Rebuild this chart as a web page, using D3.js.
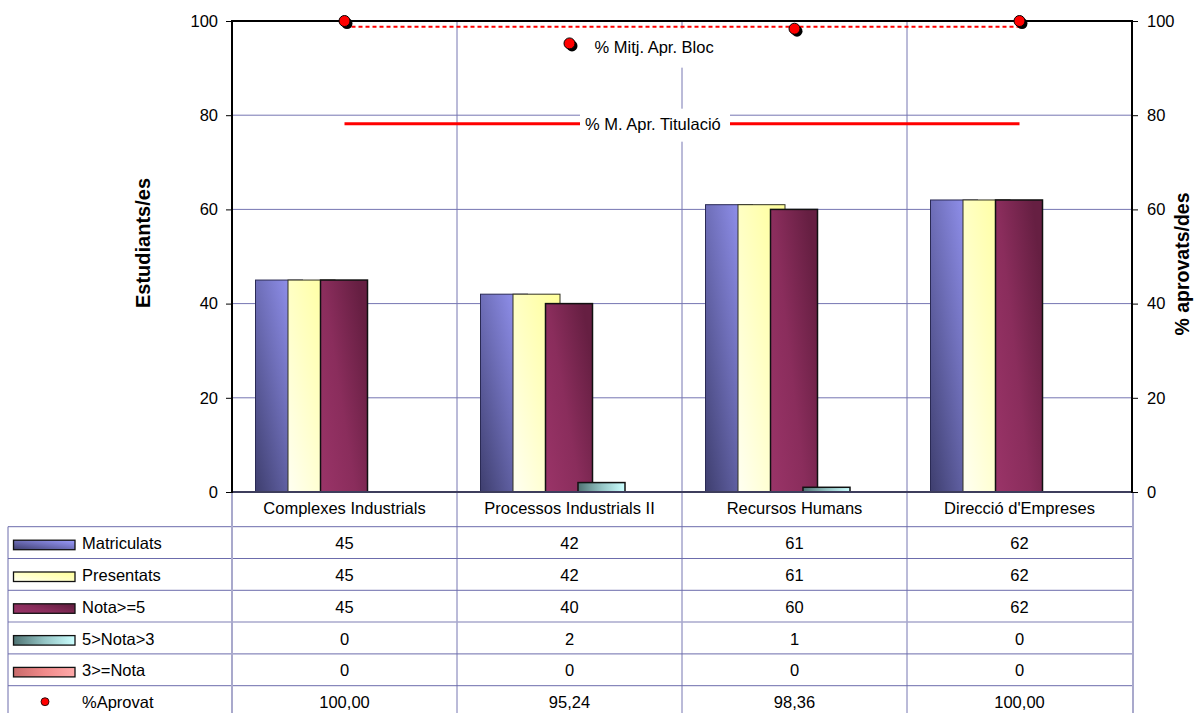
<!DOCTYPE html>
<html>
<head>
<meta charset="utf-8">
<script src="https://cdn.jsdelivr.net/npm/d3@7"></script>
<style>
  html, body { margin: 0; padding: 0; background: #fff; }
  svg { display: block; font-family: "Liberation Sans", Arial, sans-serif; }
</style>
</head>
<body>
<svg id="chart" width="1195" height="713"></svg>
<script>
// ---- Data ----
const categories = ["Complexes Industrials", "Processos Industrials II", "Recursos Humans", "Direcció d'Empreses"];
const seriesNames = ["Matriculats", "Presentats", "Nota>=5", "5>Nota>3", "3>=Nota"];
const matriculats = [45, 42, 61, 62];
const presentats = [45, 42, 61, 62];
const notaMajorIgual5 = [45, 40, 60, 62];
const nota5a3 = [0, 2, 1, 0];
const notaMenorIgual3 = [0, 0, 0, 0];
const aprovat = [100.00, 95.24, 98.36, 100.00];
const mitjAprBloc = 98.8;
const mitjAprTitulacio = 78.2;
const yTicks = [0, 20, 40, 60, 80, 100];
const leftTitle = "Estudiants/es";
const rightTitle = "% aprovats/des";
const blocLabel = "% Mitj. Apr. Bloc";
const titulacioLabel = "% M. Apr. Titulació";
const aprovatName = "%Aprovat";

const seriesValues = [matriculats, presentats, notaMajorIgual5, nota5a3, notaMenorIgual3];

// ---- Styles ----
const gradDefs = [
  { id: "g0", x1: 0, y1: 1, x2: 1, y2: 0, stops: ["#3e3e6e", "#6e6eb8", "#9c9cff"], stroke: "#2a2a55", sw: 1 },
  { id: "g1", x1: 0, y1: 1, x2: 1, y2: 0, stops: ["#fffff2", "#ffffc4", "#ffff99"], stroke: "#333322", sw: 1 },
  { id: "g2", x1: 0, y1: 1, x2: 1, y2: 0.3, stops: ["#9a3468", "#8a2d5c", "#661f42"], stroke: "#111", sw: 1.5 },
  { id: "g3", x1: 0, y1: 0, x2: 1, y2: 0, stops: ["#4f7373", "#94c4c4", "#ccffff"], stroke: "#111", sw: 1.5 },
  { id: "g4", x1: 0, y1: 0, x2: 1, y2: 0, stops: ["#c86a6a", "#f08a8a", "#ffaaaa"], stroke: "#552222", sw: 1 }
];
const gridColor = "#7676b2";
const tableColor = "#6c6cac";
const lightColor = "#a9a9cc";
const fontSize = 16.5;

const svg = d3.select("#chart");
const defs = svg.append("defs");
gradDefs.forEach(g => {
  const lg = defs.append("linearGradient").attr("id", g.id)
    .attr("x1", g.x1).attr("y1", g.y1).attr("x2", g.x2).attr("y2", g.y2);
  g.stops.forEach((c, i) => lg.append("stop").attr("offset", i / (g.stops.length - 1)).attr("stop-color", c));
});

// ---- Layout ----
const plot = { left: 232, right: 1132, top: 21, bottom: 492 };
const tableLeft = 8;
const tableTop = 526.7;
const rowH = 31.8;

const x0 = d3.scaleBand().domain(categories).range([plot.left, plot.right]);
const xs = d3.scaleBand().domain(seriesNames).range([23.5, 23.5 + 5 * 32.5]);
const barW = 47;
const yL = d3.scaleLinear().domain([0, 100]).range([plot.bottom, plot.top]);
const yR = d3.scaleLinear().domain([0, 100]).range([plot.bottom, plot.top]);
const catCenter = c => x0(c) + x0.bandwidth() / 2;

// ---- Gridlines ----
svg.append("g").selectAll("line").data(yTicks.filter(t => t > 0 && t < 100)).join("line")
  .attr("x1", plot.left).attr("x2", plot.right)
  .attr("y1", d => yL(d)).attr("y2", d => yL(d))
  .attr("stroke", gridColor).attr("stroke-width", 1);

// vertical category separators (plot + table)
svg.append("g").selectAll("line").data(categories.slice(1)).join("line")
  .attr("x1", d => x0(d)).attr("x2", d => x0(d))
  .attr("y1", plot.top).attr("y2", 713)
  .attr("stroke", gridColor).attr("stroke-width", 1);

// ---- Bars ----
seriesNames.forEach((s, si) => {
  const g = gradDefs[si];
  svg.append("g").selectAll("rect")
    .data(categories.map((c, i) => ({ c, v: seriesValues[si][i] })).filter(d => d.v > 0))
    .join("rect")
    .attr("x", d => x0(d.c) + xs(s))
    .attr("y", d => yL(d.v))
    .attr("width", barW)
    .attr("height", d => yL(0) - yL(d.v))
    .attr("fill", `url(#${g.id})`)
    .attr("stroke", g.stroke)
    .attr("stroke-width", g.sw);
});

// ---- Axes frame ----
svg.append("line").attr("x1", plot.left).attr("x2", plot.right).attr("y1", plot.top).attr("y2", plot.top)
  .attr("stroke", "#000").attr("stroke-width", 2);
svg.append("line").attr("x1", plot.left).attr("x2", plot.right).attr("y1", plot.bottom).attr("y2", plot.bottom)
  .attr("stroke", "#3d3d5c").attr("stroke-width", 2);

const axL = svg.append("g").attr("transform", `translate(${plot.left},0)`)
  .call(d3.axisLeft(yL).tickValues(yTicks).tickSize(6).tickPadding(8).tickFormat(d3.format("d")));
const axR = svg.append("g").attr("transform", `translate(${plot.right},0)`)
  .call(d3.axisRight(yR).tickValues(yTicks).tickSize(6).tickPadding(9).tickFormat(d3.format("d")));
[axL, axR].forEach(ax => {
  ax.select(".domain").remove();
  ax.selectAll("text").attr("font-size", fontSize).attr("fill", "#000")
    .attr("font-family", "'Liberation Sans', Arial, sans-serif");
  ax.selectAll(".tick line").attr("stroke", "#000");
});
svg.append("line").attr("x1", plot.left).attr("x2", plot.left).attr("y1", plot.top - 1).attr("y2", plot.bottom + 1)
  .attr("stroke", "#000").attr("stroke-width", 2);
svg.append("line").attr("x1", plot.right).attr("x2", plot.right).attr("y1", plot.top - 1).attr("y2", plot.bottom + 1)
  .attr("stroke", "#000").attr("stroke-width", 2);

// ---- Axis titles ----
svg.append("text").attr("transform", `translate(150,243) rotate(-90)`)
  .attr("text-anchor", "middle").attr("font-weight", "bold").attr("font-size", 20).text(leftTitle);
svg.append("text").attr("transform", `translate(1189,264) rotate(-90)`)
  .attr("text-anchor", "middle").attr("font-weight", "bold").attr("font-size", 19.5).text(rightTitle);

// ---- Average lines ----
const xFirst = catCenter(categories[0]);
const xLast = catCenter(categories[categories.length - 1]);
svg.append("line").attr("x1", xFirst).attr("x2", xLast)
  .attr("y1", yR(mitjAprTitulacio)).attr("y2", yR(mitjAprTitulacio))
  .attr("stroke", "#ff0000").attr("stroke-width", 3);
svg.append("line").attr("x1", xFirst).attr("x2", xLast)
  .attr("y1", yR(mitjAprBloc)).attr("y2", yR(mitjAprBloc))
  .attr("stroke", "#ff0000").attr("stroke-width", 2).attr("stroke-dasharray", "4,3");

// labels with white boxes
const blocX = catCenter(categories[1]) + 25;
const blocY = yR(mitjAprBloc) + 26;
svg.append("rect").attr("x", blocX - 8).attr("y", yR(mitjAprBloc) + 2).attr("width", 142).attr("height", 39).attr("fill", "#fff");
svg.append("text").attr("x", blocX).attr("y", blocY).attr("font-size", fontSize).text(blocLabel);

const titX = 585;
const titY = yR(mitjAprTitulacio) + 6;
svg.append("rect").attr("x", titX - 5).attr("y", yR(mitjAprTitulacio) - 15).attr("width", 150).attr("height", 33).attr("fill", "#fff");
svg.append("text").attr("x", titX).attr("y", titY).attr("font-size", fontSize).text(titulacioLabel);

// ---- %Aprovat dots ----
const dots = svg.append("g");
dots.selectAll("circle.sh").data(aprovat).join("circle").attr("class", "sh")
  .attr("cx", (d, i) => catCenter(categories[i]) + 2.5).attr("cy", d => yR(d) + 2.5)
  .attr("r", 5.5).attr("fill", "#000");
dots.selectAll("circle.pt").data(aprovat).join("circle").attr("class", "pt")
  .attr("cx", (d, i) => catCenter(categories[i])).attr("cy", d => yR(d))
  .attr("r", 5.5).attr("fill", "#ff0000").attr("stroke", "#000").attr("stroke-width", 1);

// ---- Category labels row ----
svg.append("g").selectAll("text").data(categories).join("text")
  .attr("x", d => catCenter(d)).attr("y", 514)
  .attr("text-anchor", "middle").attr("font-size", fontSize).text(d => d);

// ---- Data table ----
const locale = d3.formatLocale({ decimal: ",", thousands: ".", grouping: [3], currency: ["", "€"] });
const fmtPct = locale.format(".2f");
const fmtInt = d3.format("d");
const rows = seriesNames.map((s, si) => ({ name: s, values: seriesValues[si].map(fmtInt), si }))
  .concat([{ name: aprovatName, values: aprovat.map(fmtPct), si: -1 }]);

// horizontal lines
const rowLines = d3.range(rows.length).map(i => tableTop + i * rowH);
svg.append("g").selectAll("line").data(rowLines).join("line")
  .attr("x1", tableLeft).attr("x2", plot.right + 1)
  .attr("y1", d => d).attr("y2", d => d)
  .attr("stroke", (d, i) => i === 3 ? lightColor : tableColor).attr("stroke-width", (d, i) => i === 3 ? 1.5 : 1);
// verticals
svg.append("line").attr("x1", tableLeft).attr("x2", tableLeft).attr("y1", tableTop).attr("y2", 713)
  .attr("stroke", tableColor).attr("stroke-width", 1);
svg.append("line").attr("x1", plot.left).attr("x2", plot.left).attr("y1", plot.bottom + 1).attr("y2", 713)
  .attr("stroke", lightColor).attr("stroke-width", 2);
svg.append("line").attr("x1", plot.right + 1).attr("x2", plot.right + 1).attr("y1", plot.bottom + 1).attr("y2", 713)
  .attr("stroke", lightColor).attr("stroke-width", 2);

const rowG = svg.append("g").selectAll("g").data(rows).join("g")
  .attr("transform", (d, i) => `translate(0,${tableTop + i * rowH})`);
rowG.append("text").attr("x", 82).attr("y", 22.5).attr("font-size", fontSize).text(d => d.name);
rowG.each(function (d) {
  const g = d3.select(this);
  if (d.si >= 0) {
    const gd = gradDefs[d.si];
    g.append("rect").attr("x", 13.5).attr("y", 13.5).attr("width", 61.5).attr("height", 9.5)
      .attr("fill", `url(#${gd.id})`).attr("stroke", "#111").attr("stroke-width", 1.3);
  } else {
    g.append("circle").attr("cx", 45).attr("cy", 16).attr("r", 4).attr("fill", "#ff0000").attr("stroke", "#000").attr("stroke-width", 0.8);
  }
  g.selectAll("text.v").data(d.values).join("text").attr("class", "v")
    .attr("x", (v, i) => catCenter(categories[i])).attr("y", 22.5)
    .attr("text-anchor", "middle").attr("font-size", fontSize).text(v => v);
});
</script>
</body>
</html>
